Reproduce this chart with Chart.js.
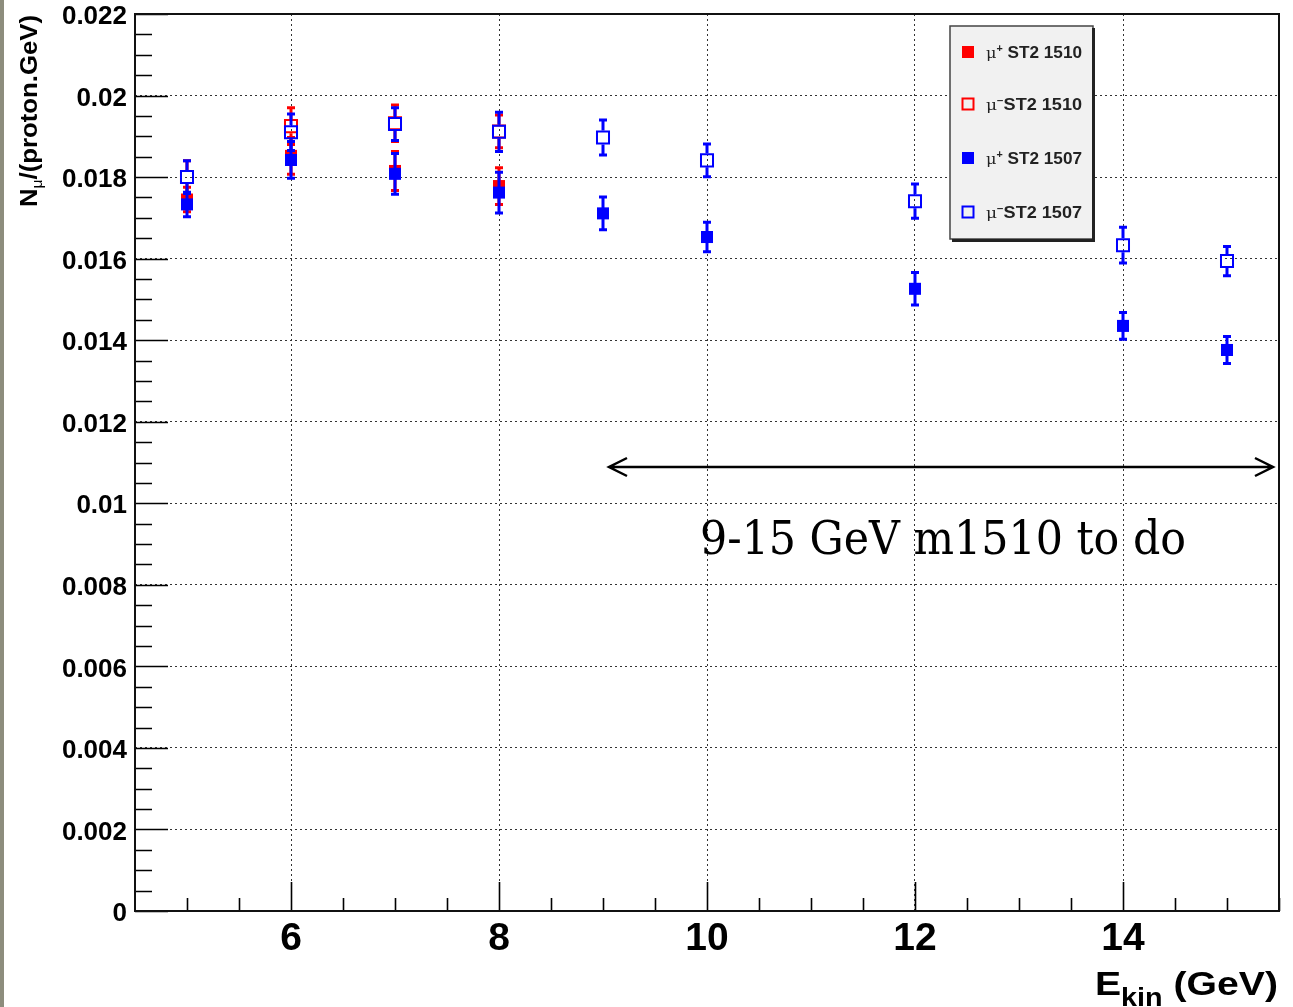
<!DOCTYPE html>
<html><head><meta charset="utf-8">
<script src="https://cdn.jsdelivr.net/npm/chart.js@4.4.0/dist/chart.umd.min.js"></script>
<style>html,body{margin:0;padding:0;background:#fff;overflow:hidden}canvas{display:block}</style>
</head><body>
<canvas id="c" width="1293" height="1007" style="width:1293px;height:1007px"></canvas>
<script>
// ---- data ----
const energies1510 = [5, 6, 7, 8];
const muPlus1510 = [0.01745, 0.01852, 0.01815, 0.01778];
const muPlus1510Err = [0.0003, 0.00045, 0.00048, 0.00045];
const muMinus1510 = [0.01800, 0.01925, 0.01932, 0.01912];
const muMinus1510Err = [0.0004, 0.00045, 0.00045, 0.0004];

const energies1507 = [5, 6, 7, 8, 9, 10, 12, 14, 15];
const muPlus1507 = [0.01733, 0.01842, 0.01808, 0.01762, 0.01711, 0.01653, 0.01526, 0.01435, 0.01376];
const muPlus1507Err = [0.0003, 0.00045, 0.0005, 0.0005, 0.0004, 0.00036, 0.0004, 0.00033, 0.00033];
const muMinus1507 = [0.01800, 0.01910, 0.01930, 0.01911, 0.01897, 0.01841, 0.01741, 0.01633, 0.01594];
const muMinus1507Err = [0.0004, 0.00045, 0.0004, 0.00048, 0.00043, 0.0004, 0.00042, 0.00044, 0.00036];

const xTickValues = [6, 8, 10, 12, 14];
const xTickLabels = ['6', '8', '10', '12', '14'];
const yTickValues = [0, 0.002, 0.004, 0.006, 0.008, 0.01, 0.012, 0.014, 0.016, 0.018, 0.02, 0.022];
const yTickLabels = ['0', '0.002', '0.004', '0.006', '0.008', '0.01', '0.012', '0.014', '0.016', '0.018', '0.02', '0.022'];
const legendNames = ['ST2 1510', 'ST2 1510', 'ST2 1507', 'ST2 1507'];
const legendCharges = ['+', '\u2212', '+', '\u2212'];
const annotationText = '9-15 GeV m1510 to do';

const RED = '#ff0000', BLUE = '#0000ff';

function mk(xs, ys) { return xs.map((x, i) => ({ x: x, y: ys[i] })); }

const datasets = [
  { label: 'mu+ ST2 1510', data: mk(energies1510, muPlus1510), errors: muPlus1510Err, open: false,
    pointStyle: 'rect', pointRadius: 8.5, backgroundColor: RED, borderColor: RED, borderWidth: 0, order: 3, showLine: false },
  { label: 'mu- ST2 1510', data: mk(energies1510, muMinus1510), errors: muMinus1510Err, open: true,
    pointStyle: 'rect', pointRadius: 8.5, backgroundColor: 'rgba(0,0,0,0)', borderColor: RED, borderWidth: 2, order: 2, showLine: false },
  { label: 'mu+ ST2 1507', data: mk(energies1507, muPlus1507), errors: muPlus1507Err, open: false,
    pointStyle: 'rect', pointRadius: 8.5, backgroundColor: BLUE, borderColor: BLUE, borderWidth: 0, order: 1, showLine: false },
  { label: 'mu- ST2 1507', data: mk(energies1507, muMinus1507), errors: muMinus1507Err, open: true,
    pointStyle: 'rect', pointRadius: 8.5, backgroundColor: 'rgba(0,0,0,0)', borderColor: BLUE, borderWidth: 2, order: 0, showLine: false }
];

function drawParts(ctx, parts, x, y, targetW) {
  let w = 0;
  parts.forEach(p => { ctx.font = p.font; p.w = ctx.measureText(p.t).width; w += p.w; });
  const sx = targetW ? targetW / w : 1;
  ctx.save();
  ctx.translate(x, y);
  ctx.scale(sx, 1);
  let cx = 0;
  parts.forEach(p => { ctx.font = p.font; ctx.fillText(p.t, cx, p.dy || 0); cx += p.w; });
  ctx.restore();
}

const bgPlugin = {
  id: 'bg',
  beforeDraw(chart) {
    const ctx = chart.ctx;
    ctx.save();
    ctx.fillStyle = '#ffffff';
    ctx.fillRect(0, 0, chart.width, chart.height);
    ctx.fillStyle = '#8d8d7d';
    ctx.fillRect(0, 0, 4, chart.height);
    ctx.restore();
  }
};

const framePlugin = {
  id: 'frame',
  beforeDatasetsDraw(chart) {
    const ctx = chart.ctx, a = chart.chartArea, xs = chart.scales.x, ys = chart.scales.y;
    ctx.save();
    ctx.strokeStyle = '#000';
    ctx.lineWidth = 1.6;
    ctx.beginPath();
    for (let v = 5; v <= 15.5 + 1e-9; v += 0.5) {
      const px = Math.round(xs.getPixelForValue(v)) + 0.5;
      const major = xTickValues.some(t => Math.abs(t - v) < 1e-9);
      ctx.moveTo(px, a.bottom);
      ctx.lineTo(px, a.bottom - (major ? 29 : 13));
    }
    for (let k = 0; k <= 44; k++) {
      const v = k * 0.0005;
      const py = Math.round(ys.getPixelForValue(v)) + 0.5;
      const major = k % 4 === 0;
      ctx.moveTo(a.left, py);
      ctx.lineTo(a.left + (major ? 33 : 17), py);
    }
    ctx.stroke();
    ctx.lineWidth = 2;
    ctx.strokeStyle = '#111';
    ctx.strokeRect(a.left, a.top, a.right - a.left, a.bottom - a.top);
    ctx.restore();
  }
};

const errorBarPlugin = {
  id: 'errorBars',
  beforeDatasetDraw(chart, args) {
    const ds = chart.data.datasets[args.index];
    const ys = chart.scales.y, ctx = chart.ctx;
    ctx.save();
    ctx.strokeStyle = ds.borderColor;
    args.meta.data.forEach((pt, i) => {
      const v = ds.data[i].y, e = ds.errors[i];
      const top = ys.getPixelForValue(v + e), bot = ys.getPixelForValue(v - e);
      const x = pt.x, gap = ds.open ? 7 : 0;
      ctx.lineWidth = 3;
      ctx.beginPath();
      if (top < pt.y - gap) { ctx.moveTo(x, top); ctx.lineTo(x, pt.y - gap); }
      if (bot > pt.y + gap) { ctx.moveTo(x, pt.y + gap); ctx.lineTo(x, bot); }
      ctx.stroke();
      ctx.beginPath();
      ctx.moveTo(x - 4, top); ctx.lineTo(x + 4, top);
      ctx.moveTo(x - 4, bot); ctx.lineTo(x + 4, bot);
      ctx.stroke();
    });
    ctx.restore();
  }
};

const overlayPlugin = {
  id: 'overlay',
  afterDraw(chart) {
    const ctx = chart.ctx;
    ctx.save();
    ctx.fillStyle = '#000';
    ctx.textBaseline = 'alphabetic';
    ctx.textAlign = 'left';
    ctx.save();
    ctx.translate(37, 207);
    ctx.rotate(-Math.PI / 2);
    drawParts(ctx, [
      { t: 'N', font: 'bold 23px "Liberation Sans", Arial, sans-serif' },
      { t: '\u03bc', font: '14px "Liberation Sans", Arial, sans-serif', dy: 5 },
      { t: '/(proton.GeV)', font: 'bold 23px "Liberation Sans", Arial, sans-serif' }
    ], 0, 0, 192);
    ctx.restore();
    drawParts(ctx, [
      { t: 'E', font: 'bold 34px "Liberation Sans", Arial, sans-serif' },
      { t: 'kin', font: 'bold 25px "Liberation Sans", Arial, sans-serif', dy: 11 },
      { t: ' (GeV)', font: 'bold 34px "Liberation Sans", Arial, sans-serif' }
    ], 1095, 995, 183);

    const lx = 950, ly = 26, lw = 143, lh = 213;
    ctx.fillStyle = '#f1f1f1';
    ctx.fillRect(lx, ly, lw, lh);
    ctx.strokeStyle = '#444';
    ctx.lineWidth = 1.5;
    ctx.strokeRect(lx, ly, lw, lh);
    ctx.strokeStyle = '#222';
    ctx.lineWidth = 3;
    ctx.beginPath();
    ctx.moveTo(lx + lw + 0.5, ly + 2); ctx.lineTo(lx + lw + 0.5, ly + lh + 1.5);
    ctx.lineTo(lx + 2, ly + lh + 1.5);
    ctx.stroke();
    const rowsY = [52, 104, 158, 212];
    datasets.forEach((ds, i) => {
      const cy = rowsY[i];
      if (ds.open) {
        ctx.strokeStyle = ds.borderColor; ctx.lineWidth = 2;
        ctx.strokeRect(962.5, cy - 5.5, 11, 11);
      } else {
        ctx.fillStyle = ds.backgroundColor;
        ctx.fillRect(962, cy - 6, 12, 12);
      }
      ctx.fillStyle = '#222';
      const parts = [
        { t: '\u03bc', font: '15px "DejaVu Serif", serif', dy: 0 },
        { t: legendCharges[i], font: 'bold 10px "Liberation Sans", Arial, sans-serif', dy: -6 },
        { t: (legendCharges[i] === '+' ? ' ' : '') + legendNames[i], font: 'bold 16px "Liberation Sans", Arial, sans-serif', dy: 0 }
      ];
      drawParts(ctx, parts, 986, cy + 6, 96);
    });

    ctx.strokeStyle = '#000';
    ctx.lineWidth = 2.5;
    const ay = 467, ax1 = 609, ax2 = 1273;
    ctx.beginPath();
    ctx.moveTo(ax1, ay); ctx.lineTo(ax2, ay);
    ctx.moveTo(ax1 + 18, ay - 9); ctx.lineTo(ax1, ay); ctx.lineTo(ax1 + 18, ay + 9);
    ctx.moveTo(ax2 - 18, ay - 9); ctx.lineTo(ax2, ay); ctx.lineTo(ax2 - 18, ay + 9);
    ctx.stroke();
    ctx.fillStyle = '#000';
    drawParts(ctx, [{ t: annotationText, font: '46px "DejaVu Serif", serif' }], 700, 554, 486);
    ctx.restore();
  }
};

const chart = new Chart(document.getElementById('c').getContext('2d'), {
  type: 'scatter',
  data: { datasets: datasets },
  options: {
    responsive: false,
    animation: false,
    devicePixelRatio: 1,
    layout: { padding: { left: 0, right: 14, top: 14, bottom: 0 } },
    plugins: { legend: { display: false }, tooltip: { enabled: false } },
    scales: {
      x: {
        type: 'linear', min: 4.5, max: 15.5,
        afterBuildTicks: s => { s.ticks = xTickValues.map(v => ({ value: v })); },
        afterFit: s => { s.height = 96; s.paddingLeft = 0; s.paddingRight = 0; },
        grid: { color: '#333', lineWidth: 1, drawTicks: false },
        border: { display: false, dash: [2, 3] },
        ticks: {
          color: '#000', padding: 9, maxRotation: 0, autoSkip: false,
          font: { family: '"Liberation Sans", Arial, sans-serif', size: 39, weight: 'bold', lineHeight: 1 },
          callback: (v, i) => xTickLabels[i]
        }
      },
      y: {
        type: 'linear', min: 0, max: 0.022,
        afterBuildTicks: s => { s.ticks = yTickValues.map(v => ({ value: v })); },
        afterFit: s => { s.width = 135; s.paddingTop = 0; s.paddingBottom = 0; },
        grid: { color: '#333', lineWidth: 1, drawTicks: false },
        border: { display: false, dash: [2, 3] },
        ticks: {
          color: '#000', padding: 8, autoSkip: false, labelOffset: 3,
          font: { family: '"Liberation Sans", Arial, sans-serif', size: 26, weight: 'bold', lineHeight: 1 },
          callback: (v, i) => yTickLabels[i]
        }
      }
    }
  },
  plugins: [bgPlugin, framePlugin, errorBarPlugin, overlayPlugin]
});
</script>
</body></html>
